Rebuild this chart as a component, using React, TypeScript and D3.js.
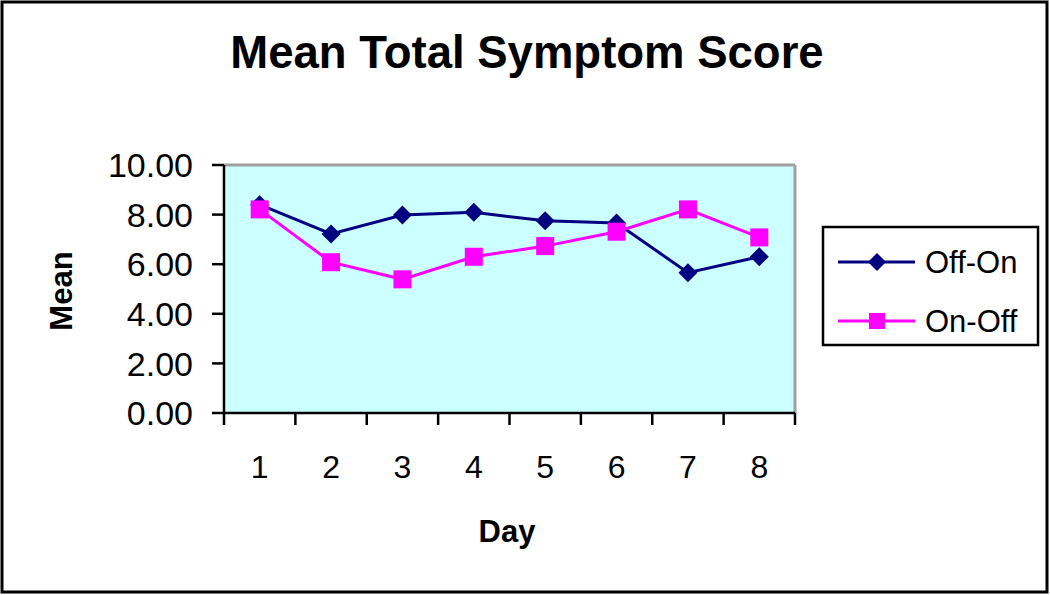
import React from "react";
import * as d3 from "d3";

const days = ["1", "2", "3", "4", "5", "6", "7", "8"];
const offOn = [8.40, 7.22, 7.98, 8.09, 7.75, 7.66, 5.66, 6.30];
const onOff = [8.21, 6.08, 5.39, 6.30, 6.73, 7.31, 8.21, 7.08];
const yTicks = [0, 2, 4, 6, 8, 10];
const seriesNames = ["Off-On", "On-Off"];

const W = 1050, H = 595;
const plot = { left: 224, right: 795, top: 165, bottom: 413 };
const NAVY = "#000080";
const MAG = "#FF00FF";
const FONT = "'Liberation Sans', Arial, sans-serif";

export default function App() {
  const x = d3.scaleBand<string>().domain(days).range([plot.left, plot.right]).padding(0);
  const y = d3.scaleLinear().domain([0, 10]).range([plot.bottom, plot.top]);
  const cx = (d: string) => (x(d) as number) + x.bandwidth() / 2;
  const line = d3.line<number>().x((_, i) => cx(days[i])).y((v) => y(v));
  const diamond = (px: number, py: number, r = 9.5) =>
    `M${px},${py - r}L${px + r},${py}L${px},${py + r}L${px - r},${py}Z`;
  const sq = 18;
  const bandEdges = [...days.map((d) => x(d) as number), plot.right];

  return (
    <svg width={W} height={H} style={{ position: "absolute", left: 0, top: 0, background: "#fff" }} fontFamily={FONT}>
      <rect x={2} y={2} width={1045} height={590} fill="#fff" stroke="#000" strokeWidth={3} />
      <text x={527} y={68} textAnchor="middle" fontSize={45.5} fontWeight="bold">Mean Total Symptom Score</text>

      <rect x={plot.left} y={plot.top} width={plot.right - plot.left} height={plot.bottom - plot.top} fill="#CCFFFF" />
      <line x1={plot.left} x2={plot.right} y1={plot.top} y2={plot.top} stroke="#A0A0A0" strokeWidth={3} />
      <line x1={plot.right} x2={plot.right} y1={plot.top} y2={plot.bottom} stroke="#A0A0A0" strokeWidth={3} />

      {yTicks.map((t) => (
        <g key={t}>
          <line x1={plot.left - 12} x2={plot.left} y1={y(t)} y2={y(t)} stroke="#000" strokeWidth={2.5} />
          <text x={193} y={y(t)} dy="0.36em" textAnchor="end" fontSize={34}>{t.toFixed(2)}</text>
        </g>
      ))}
      {bandEdges.map((e, i) => (
        <line key={i} x1={e} x2={e} y1={plot.bottom} y2={plot.bottom + 12} stroke="#000" strokeWidth={2.5} />
      ))}
      {days.map((d) => (
        <text key={d} x={cx(d)} y={478} textAnchor="middle" fontSize={32}>{d}</text>
      ))}
      <line x1={plot.left} x2={plot.left} y1={plot.top} y2={plot.bottom} stroke="#000" strokeWidth={2.5} />
      <line x1={plot.left} x2={plot.right} y1={plot.bottom} y2={plot.bottom} stroke="#000" strokeWidth={2.5} />

      <text x={507} y={542} textAnchor="middle" fontSize={31} fontWeight="bold">Day</text>
      <text transform={`translate(72,291) rotate(-90)`} textAnchor="middle" fontSize={31} fontWeight="bold">Mean</text>

      <path d={line(offOn) || ""} fill="none" stroke={NAVY} strokeWidth={3} />
      {offOn.map((v, i) => (
        <path key={"d" + i} d={diamond(cx(days[i]), y(v))} fill={NAVY} />
      ))}
      <path d={line(onOff) || ""} fill="none" stroke={MAG} strokeWidth={3} />
      {onOff.map((v, i) => (
        <rect key={"s" + i} x={cx(days[i]) - sq / 2} y={y(v) - sq / 2} width={sq} height={sq} fill={MAG} />
      ))}

      <rect x={823} y={227} width={215} height={118} fill="#fff" stroke="#000" strokeWidth={2.5} />
      {seriesNames.map((name, i) => {
        const ly = 262 + i * 59;
        const col = i === 0 ? NAVY : MAG;
        return (
          <g key={name}>
            <line x1={838} x2={915} y1={ly} y2={ly} stroke={col} strokeWidth={3} />
            {i === 0 ? (
              <path d={diamond(877, ly, 9)} fill={col} />
            ) : (
              <rect x={877 - 8} y={ly - 8} width={16} height={16} fill={col} />
            )}
            <text x={925} y={ly} dy="0.36em" fontSize={31}>{name}</text>
          </g>
        );
      })}
    </svg>
  );
}
